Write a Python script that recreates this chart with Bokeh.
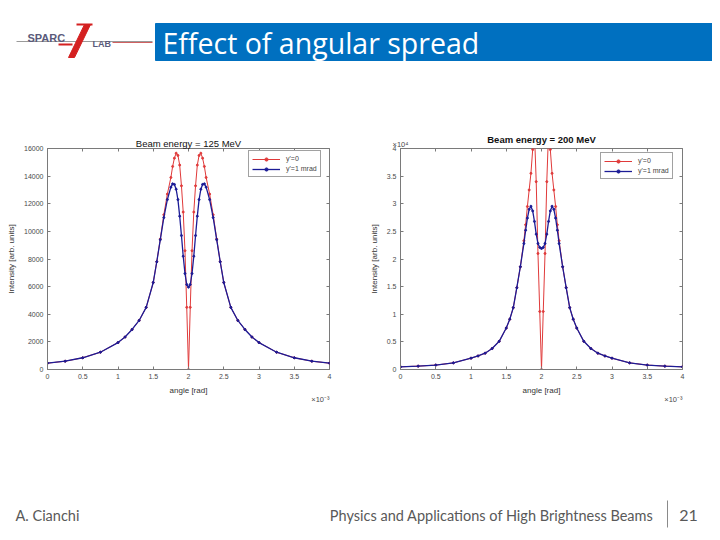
from bokeh.plotting import figure
from bokeh.models import (FixedTicker, LinearAxis, Range1d, Label, Legend, LegendItem,
                          Title, CustomJSTickFormatter)
from bokeh.layouts import column, row
from bokeh.embed import file_html
from bokeh.resources import INLINE

# ---------------- data (angle in units of 1e-3 rad) ----------------
angle = [0, 0.25, 0.5, 0.75, 1.0, 1.1, 1.2, 1.3, 1.4, 1.5, 1.55, 1.6, 1.65, 1.7, 1.75,
         1.775, 1.8, 1.825, 1.85, 1.875, 1.9, 1.925, 1.95, 1.975, 2.0,
         2.025, 2.05, 2.075, 2.1, 2.125, 2.15, 2.175, 2.2, 2.225, 2.25, 2.3, 2.35,
         2.4, 2.45, 2.5, 2.6, 2.7, 2.8, 2.9, 3.0, 3.25, 3.5, 3.75, 4.0]

# Beam energy = 125 MeV
e125_spread0 = [456, 600, 850, 1250, 1950, 2350, 2900, 3550, 4500, 6300, 7800, 9450, 11200,
                12700, 13900, 14700, 15300, 15660, 15500, 14800, 13300, 11400, 8600, 4500, 0,
                4500, 8600, 11400, 13300, 14800, 15500, 15660, 15300, 14700, 13900, 12700,
                11200, 9450, 7800, 6300, 4500, 3550, 2900, 2350, 1950, 1250, 850, 600, 456]
e125_spread1 = [456, 600, 850, 1250, 1950, 2350, 2900, 3550, 4500, 6300, 7800, 9400, 11000,
                12300, 13200, 13440, 13400, 13050, 12300, 11100, 9700, 8200, 6950, 6150, 5960,
                6150, 6950, 8200, 9700, 11100, 12300, 13050, 13400, 13440, 13200, 12300,
                11000, 9400, 7800, 6300, 4500, 3550, 2900, 2350, 1950, 1250, 850, 600, 456]

# Beam energy = 200 MeV
e200_spread0 = [490, 610, 800, 1200, 2050, 2450, 2950, 3800, 5100, 7500, 9100, 11200, 14800,
                18600, 23300, 26200, 29500, 32500, 35500, 39800, 43000, 34000, 21000, 10500, 0,
                10500, 21000, 34000, 43000, 39800, 35500, 32500, 29500, 26200, 23300, 18600,
                14800, 11200, 9100, 7500, 5100, 3800, 2950, 2450, 2050, 1200, 800, 610, 490]
e200_spread1 = [490, 610, 800, 1200, 2050, 2450, 2950, 3800, 5100, 7500, 9100, 11200, 14800,
                18600, 22800, 25200, 27400, 29000, 29550, 28700, 26800, 24500, 22800, 22100, 21900,
                22100, 22800, 24500, 26800, 28700, 29550, 29000, 27400, 25200, 22800, 18600,
                14800, 11200, 9100, 7500, 5100, 3800, 2950, 2450, 2050, 1200, 800, 610, 490]

x_ticks = [0, 0.5, 1, 1.5, 2, 2.5, 3, 3.5, 4]
x_tick_labels = ["0", "0.5", "1", "1.5", "2", "2.5", "3", "3.5", "4"]
y125_ticks = [0, 2000, 4000, 6000, 8000, 10000, 12000, 14000, 16000]
y125_labels = ["0", "2000", "4000", "6000", "8000", "10000", "12000", "14000", "16000"]
y200_ticks = [0, 5000, 10000, 15000, 20000, 25000, 30000, 35000, 40000]
y200_labels = ["0", "0.5", "1", "1.5", "2", "2.5", "3", "3.5", "4"]

legend_labels = ["y'=0", "y'=1 mrad"]
titles = ["Beam energy = 125 MeV", "Beam energy = 200 MeV"]

RED = "#e03a3a"
BLUE = "#1c1c96"
AX = "#7a7a7a"
TICK_TXT = "#4a4a4a"
FONT = "Liberation Sans"
EMPTY = CustomJSTickFormatter(code="return ''")


def make_chart(title, title_bold, red, blue, yticks, ylabels, ymax, width, bl, br, bt, bb,
               y_mult, legend_loc, title_standoff):
    p = figure(width=width, height=342, x_range=Range1d(0, 4), y_range=Range1d(0, ymax),
               output_backend="svg", toolbar_location=None,
               min_border_left=bl, min_border_right=br, min_border_top=bt,
               min_border_bottom=bb, x_axis_label="angle [rad]",
               y_axis_label="Intensity [arb. units]")
    p.grid.visible = False
    p.outline_line_color = AX
    p.outline_line_width = 1
    p.background_fill_color = "white"
    p.border_fill_color = "white"

    p.title.text = title
    p.title.align = "center"
    p.title.text_font = FONT
    p.title.text_font_size = "9.5px"
    p.title.text_font_style = "bold" if title_bold else "normal"
    p.title.text_color = "#111111"
    p.title.standoff = title_standoff

    xa = p.xaxis[0]
    xa.ticker = FixedTicker(ticks=x_ticks)
    xa.major_label_overrides = {t: l for t, l in zip(x_ticks, x_tick_labels)}
    ya = p.yaxis[0]
    ya.ticker = FixedTicker(ticks=yticks)
    ya.major_label_overrides = {t: l for t, l in zip(yticks, ylabels)}
    for ax in (xa, ya):
        ax.axis_line_color = AX
        ax.major_tick_line_color = AX
        ax.major_tick_in = 3
        ax.major_tick_out = 0
        ax.minor_tick_line_color = None
        ax.major_label_text_font = FONT
        ax.major_label_text_font_size = "7px"
        ax.major_label_text_color = TICK_TXT
        ax.axis_label_text_font = FONT
        ax.axis_label_text_font_size = "8px"
        ax.axis_label_text_font_style = "normal"
        ax.axis_label_text_color = "#333333"
        ax.major_label_standoff = 4
    xa.axis_label_standoff = 4
    ya.axis_label_standoff = 5

    top = LinearAxis(ticker=FixedTicker(ticks=x_ticks), formatter=EMPTY,
                     axis_line_color=None, major_tick_line_color=AX, major_tick_in=3,
                     major_tick_out=0, minor_tick_line_color=None, major_label_standoff=0)
    if y_mult:
        top.axis_label = y_mult
        top.axis_label_align = "start"
        top.axis_label_standoff = 0
        top.axis_label_text_font = FONT
        top.axis_label_text_font_size = "7.5px"
        top.axis_label_text_font_style = "normal"
        top.axis_label_text_color = TICK_TXT
    right = LinearAxis(ticker=FixedTicker(ticks=yticks), formatter=EMPTY,
                       axis_line_color=None, major_tick_line_color=AX, major_tick_in=3,
                       major_tick_out=0, minor_tick_line_color=None, major_label_standoff=0)
    p.add_layout(top, "above")
    p.add_layout(right, "right")

    p.add_layout(Title(text="\u00d710\u207b\u00b3", align="right", text_font=FONT,
                       text_font_size="7.5px", text_font_style="normal",
                       text_color=TICK_TXT, standoff=-13), "below")

    rl = p.line(angle, red, line_color=RED, line_width=1)
    rs = p.scatter(angle, red, size=2, color=RED)
    blu = p.line(angle, blue, line_color=BLUE, line_width=1.3)
    bs = p.scatter(angle, blue, size=2, color=BLUE)

    leg = Legend(items=[LegendItem(label=legend_labels[0], renderers=[rl, rs]),
                        LegendItem(label=legend_labels[1], renderers=[blu, bs])],
                 location=legend_loc, glyph_width=28, glyph_height=8,
                 label_text_font=FONT, label_text_font_size="7px",
                 label_height=9, label_standoff=6, padding=3, spacing=1, margin=0,
                 border_line_color="#444444", border_line_width=1,
                 background_fill_color="white", background_fill_alpha=1)
    p.add_layout(leg, "center")
    return p


left = make_chart(titles[0], False, e125_spread0, e125_spread1, y125_ticks, y125_labels,
                  16000, 360, 47, 31, 80, 41, None, (201, 192), 0)
right_p = make_chart(titles[1], True, e200_spread0, e200_spread1, y200_ticks, y200_labels,
                     40000, 352, 40, 30, 80, 40, "\u00d710\u2074", (200, 190), -16)

# ---------------- header ----------------
header = figure(width=712, height=68, x_range=Range1d(0, 712), y_range=Range1d(68, 0),
                output_backend="svg", toolbar_location=None, min_border=0)
header.axis.visible = False
header.grid.visible = False
header.outline_line_color = None
header.quad(left=155, right=712, top=23, bottom=60, color="#0070C0")
header.add_layout(Label(x=162, y=42, text="Effect of angular spread", text_font="Open Sans",
                        text_font_size="28.5px", text_color="white", text_baseline="middle"))
# logo
header.line([16, 152], [41, 41], line_color="#9a9a9a", line_width=1)
header.line([112, 152], [42, 42], line_color="#d06060", line_width=1.2)
header.patch([68, 84, 90, 74], [57, 24, 24, 57], color="#d42020")
header.line([76, 92], [24, 24], line_color="#d42020", line_width=2)
header.line([58, 72], [44, 44], line_color="#d42020", line_width=2)
header.add_layout(Label(x=27, y=37, text="SPARC", text_font="Liberation Sans",
                        text_font_size="11px", text_font_style="bold",
                        text_color="#5a5a7a", text_baseline="middle"))
header.add_layout(Label(x=92, y=43, text="LAB", text_font="Liberation Sans",
                        text_font_size="9px", text_font_style="bold",
                        text_color="#5a5a7a", text_baseline="middle"))

# ---------------- footer ----------------
footer = figure(width=712, height=126, x_range=Range1d(0, 712), y_range=Range1d(536, 410),
                output_backend="svg", toolbar_location=None, min_border=0)
footer.axis.visible = False
footer.grid.visible = False
footer.outline_line_color = None
footer.line([667, 667], [500, 527], line_color="#8a8a8a", line_width=1)
footer.add_layout(Label(x=15, y=515, text="A. Cianchi", text_font="Lato",
                        text_font_size="14.5px", text_color="#595959", text_baseline="middle"))
footer.add_layout(Label(x=653, y=515, text="Physics and Applications of High Brightness Beams",
                        text_font="Lato", text_font_size="14.5px", text_color="#595959",
                        text_baseline="middle", text_align="right"))
footer.add_layout(Label(x=688, y=515, text="21", text_font="Lato",
                        text_font_size="16px", text_color="#595959", text_baseline="middle",
                        text_align="center"))

layout = column(header, row(left, right_p), footer)

with open("out.html", "w") as f:
    f.write(file_html(layout, INLINE))
